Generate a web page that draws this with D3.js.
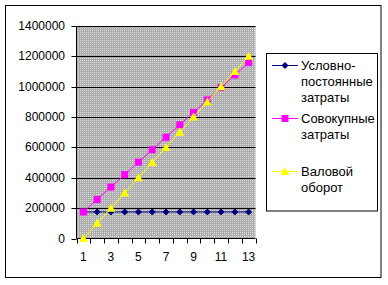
<!DOCTYPE html>
<html>
<head>
<meta charset="utf-8">
<script src="https://cdnjs.cloudflare.com/ajax/libs/d3/7.8.5/d3.min.js"></script>
<style>
  body { margin: 0; background: #fff; }
  svg text { font-family: "Liberation Sans", Arial, sans-serif; font-size: 12px; fill: #000; }
  svg text.leg { font-size: 13px; }
</style>
</head>
<body>
<div id="chart"></div>
<script>
// data
var categories = [1, 2, 3, 4, 5, 6, 7, 8, 9, 10, 11, 12, 13];
var fixedCosts = [175000, 175000, 175000, 175000, 175000, 175000, 175000, 175000, 175000, 175000, 175000, 175000, 175000];
var totalCosts = [175000, 257000, 339000, 421000, 503000, 585000, 667000, 749000, 831000, 913000, 995000, 1077000, 1159000];
var grossTurnover = [0, 100000, 200000, 300000, 400000, 500000, 600000, 700000, 800000, 900000, 1000000, 1100000, 1200000];
var yTicks = [0, 200000, 400000, 600000, 800000, 1000000, 1200000, 1400000];
var xLabels = [1, 3, 5, 7, 9, 11, 13];
var seriesNames = [["Условно-", "постоянные", "затраты"], ["Совокупные", "затраты"], ["Валовой", "оборот"]];

var W = 388, H = 285;
var svg = d3.select("#chart").append("svg").attr("width", W).attr("height", H);

// outer chart border
svg.append("rect").attr("x", 5.5).attr("y", 5.5).attr("width", 375.5).attr("height", 272)
    .attr("fill", "#fff").attr("stroke", "#000");

var plot = {left: 76.5, right: 255.5, top: 26, bottom: 238.5};

var x = d3.scaleBand().domain(categories).range([plot.left, plot.right]);
var y = d3.scaleLinear().domain([0, 1400000]).range([plot.bottom, plot.top]);

// gray dotted fill like the old excel pattern
var defs = svg.append("defs");
var pat = defs.append("pattern").attr("id", "dots").attr("patternUnits", "userSpaceOnUse")
    .attr("width", 2).attr("height", 2);
pat.append("rect").attr("width", 2).attr("height", 2).attr("fill", "#acacac");
pat.append("rect").attr("width", 1).attr("height", 1).attr("fill", "#dedede");

svg.append("rect").attr("x", plot.left).attr("y", plot.top)
    .attr("width", plot.right - plot.left).attr("height", plot.bottom - plot.top)
    .attr("fill", "url(#dots)");

// gridlines
svg.selectAll("line.grid").data(yTicks.slice(1)).enter().append("line")
    .attr("class", "grid")
    .attr("x1", plot.left).attr("x2", plot.right)
    .attr("y1", function (d) { return Math.round(y(d)) + 0.5; })
    .attr("y2", function (d) { return Math.round(y(d)) + 0.5; })
    .attr("stroke", "#000");

// y axis
svg.append("line").attr("x1", plot.left).attr("x2", plot.left)
    .attr("y1", plot.top).attr("y2", plot.bottom).attr("stroke", "#000");
svg.selectAll("line.ytick").data(yTicks).enter().append("line")
    .attr("class", "ytick")
    .attr("x1", plot.left - 5).attr("x2", plot.left)
    .attr("y1", function (d) { return Math.round(y(d)) + 0.5; })
    .attr("y2", function (d) { return Math.round(y(d)) + 0.5; })
    .attr("stroke", "#000");
svg.selectAll("text.ylab").data(yTicks).enter().append("text")
    .attr("class", "ylab")
    .attr("x", 65).attr("y", function (d) { return y(d) + 4; })
    .attr("text-anchor", "end")
    .text(function (d) { return d; });

// x axis
svg.append("line").attr("x1", plot.left).attr("x2", plot.right)
    .attr("y1", plot.bottom).attr("y2", plot.bottom).attr("stroke", "#000");
var xTickPos = categories.map(function (c) { return x(c); }).concat([plot.right]);
svg.selectAll("line.xtick").data(xTickPos).enter().append("line")
    .attr("class", "xtick")
    .attr("x1", function (d) { return Math.round(d) + 0.5; })
    .attr("x2", function (d) { return Math.round(d) + 0.5; })
    .attr("y1", plot.bottom).attr("y2", plot.bottom + 5)
    .attr("stroke", "#000");
svg.selectAll("text.xlab").data(xLabels).enter().append("text")
    .attr("class", "xlab")
    .attr("x", function (d) { return x(d) + x.bandwidth() / 2; })
    .attr("y", 261)
    .attr("text-anchor", "middle")
    .text(function (d) { return d; });

var cx = function (i) { return x(categories[i]) + x.bandwidth() / 2; };
var line = d3.line().x(function (d, i) { return cx(i); }).y(function (d) { return y(d); });

var series = [
    {values: fixedCosts, color: "#000080", marker: "diamond"},
    {values: totalCosts, color: "#ff00ff", marker: "square"},
    {values: grossTurnover, color: "#ffff00", marker: "triangle"}
];

function drawMarker(g, type, px, py, color) {
    if (type === "diamond") {
        g.append("path").attr("d", "M" + px + "," + (py - 3) + "L" + (px + 3) + "," + py +
            "L" + px + "," + (py + 3) + "L" + (px - 3) + "," + py + "Z")
            .attr("fill", color).attr("stroke", color);
    } else if (type === "square") {
        g.append("rect").attr("x", px - 3.5).attr("y", py - 3.5).attr("width", 7).attr("height", 7)
            .attr("fill", color);
    } else {
        g.append("path").attr("d", "M" + px + "," + (py - 4.5) + "L" + (px + 4.5) + "," + (py + 3.5) +
            "L" + (px - 4.5) + "," + (py + 3.5) + "Z")
            .attr("fill", color);
    }
}

series.forEach(function (s) {
    svg.append("path").datum(s.values).attr("d", line)
        .attr("fill", "none").attr("stroke", s.color).attr("stroke-width", 1);
    var g = svg.append("g");
    s.values.forEach(function (v, i) {
        drawMarker(g, s.marker, cx(i), y(v), s.color);
    });
});

// legend
svg.append("rect").attr("x", 266.5).attr("y", 53.5).attr("width", 111).attr("height", 157.5)
    .attr("fill", "#fff").attr("stroke", "#000");
var legendY = [65, 118, 171];
series.forEach(function (s, k) {
    var ly = legendY[k];
    svg.append("line").attr("x1", 272).attr("x2", 298).attr("y1", ly + 0.5).attr("y2", ly + 0.5)
        .attr("stroke", s.color);
    drawMarker(svg, s.marker, 285, ly + 0.5, s.color);
    seriesNames[k].forEach(function (t, j) {
        svg.append("text").attr("class", "leg").attr("x", 301).attr("y", ly + 5 + j * 16).text(t);
    });
});
</script>
</body>
</html>
